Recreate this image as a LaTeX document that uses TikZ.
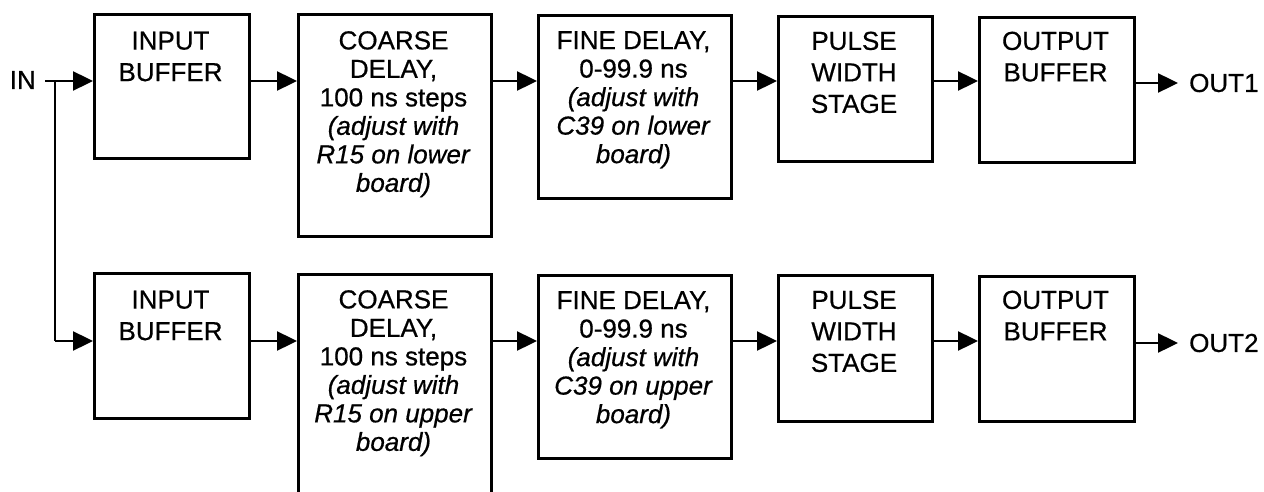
\documentclass[tikz,border=0pt]{standalone}
\usepackage{fontspec}
\setmainfont{Liberation Sans}[FakeBold=0.6]
\usetikzlibrary{arrows.meta}
\tikzset{
  box/.style={draw, line width=2.8pt, anchor=north west, inner sep=0pt},
  txt/.style={anchor=north, align=center, inner sep=0pt, font=\fontsize{26}{28.5}\selectfont},
  txtw/.style={anchor=north, align=center, inner sep=0pt, font=\fontsize{26}{31.5}\selectfont},
  lbl/.style={inner sep=0pt, font=\fontsize{26}{28.5}\selectfont},
  arr/.style={line width=2.4pt, -{Triangle[length=20pt,width=19pt]}},
  wire/.style={line width=2.4pt}
}
\begin{document}
\begin{tikzpicture}[x=1pt, y=-1pt]
\useasboundingbox[fill=white] (0,0) rectangle (1264,492);
% row 1 boxes
\node[box, minimum width=155pt, minimum height=144pt] (ib1) at (93,13) {};
\node[box, minimum width=193pt, minimum height=222pt] (cd1) at (297,13) {};
\node[box, minimum width=193pt, minimum height=183pt] (fd1) at (537,14) {};
\node[box, minimum width=154pt, minimum height=145pt] (pw1) at (777,15) {};
\node[box, minimum width=155pt, minimum height=145pt] (ob1) at (978,16) {};
% row 2 boxes
\node[box, minimum width=155pt, minimum height=145pt] (ib2) at (93,272) {};
\node[box, minimum width=193pt, minimum height=230pt] (cd2) at (297,273) {};
\node[box, minimum width=193pt, minimum height=183pt] (fd2) at (537,274) {};
\node[box, minimum width=154pt, minimum height=146pt] (pw2) at (777,274) {};
\node[box, minimum width=155pt, minimum height=145pt] (ob2) at (978,275) {};
% row 1 texts
\node[txtw] (ib1t) at (170.5,31.5) {INPUT\\BUFFER};
\node[txt] (cd1t) at (393.5,31) {COARSE\\DELAY,\\100 ns steps\\\textit{(adjust with}\\\textit{R15 on lower}\\\textit{board)}};
\node[txt] (fd1t) at (633.5,31) {FINE DELAY,\\0-99.9 ns\\\textit{(adjust with}\\\textit{C39 on lower}\\\textit{board)}};
\node[txtw] (pw1t) at (854,31.5) {PULSE\\WIDTH\\STAGE};
\node[txtw] (ob1t) at (1055.5,31.5) {OUTPUT\\BUFFER};
% row 2 texts
\node[txtw] (ib2t) at (170.5,290.5) {INPUT\\BUFFER};
\node[txt] (cd2t) at (393.5,290) {COARSE\\DELAY,\\100 ns steps\\\textit{(adjust with}\\\textit{R15 on upper}\\\textit{board)}};
\node[txt] (fd2t) at (633.5,291) {FINE DELAY,\\0-99.9 ns\\\textit{(adjust with}\\\textit{C39 on upper}\\\textit{board)}};
\node[txtw] (pw2t) at (854,290.5) {PULSE\\WIDTH\\STAGE};
\node[txtw] (ob2t) at (1055.5,290.5) {OUTPUT\\BUFFER};
% labels
\node[lbl, anchor=east] (in) at (36,80) {IN};
\node[lbl, anchor=west] (out1) at (1189,83) {OUT1};
\node[lbl, anchor=west] (out2) at (1189,343) {OUT2};
% reference coordinates
\coordinate (r1) at (0,81);
\coordinate (r2) at (0,341);
\coordinate (s) at (45,81);
\coordinate (j) at (55,81);
\coordinate (o1) at (1178,83);
\coordinate (o2) at (1178,343);
% connectors
\draw[arr] (s) -- (ib1.west |- r1);
\draw[wire] (j) -- (j |- r2);
\draw[arr] (j |- r2) -- (ib2.west |- r2);
\draw[arr] (ib1.east |- r1) -- (cd1.west |- r1);
\draw[arr] (cd1.east |- r1) -- (fd1.west |- r1);
\draw[arr] (fd1.east |- r1) -- (pw1.west |- r1);
\draw[arr] (pw1.east |- r1) -- (ob1.west |- r1);
\draw[arr] (ob1.east |- o1) -- (o1);
\draw[arr] (ib2.east |- r2) -- (cd2.west |- r2);
\draw[arr] (cd2.east |- r2) -- (fd2.west |- r2);
\draw[arr] (fd2.east |- r2) -- (pw2.west |- r2);
\draw[arr] (pw2.east |- r2) -- (ob2.west |- r2);
\draw[arr] (ob2.east |- o2) -- (o2);
\end{tikzpicture}
\end{document}
